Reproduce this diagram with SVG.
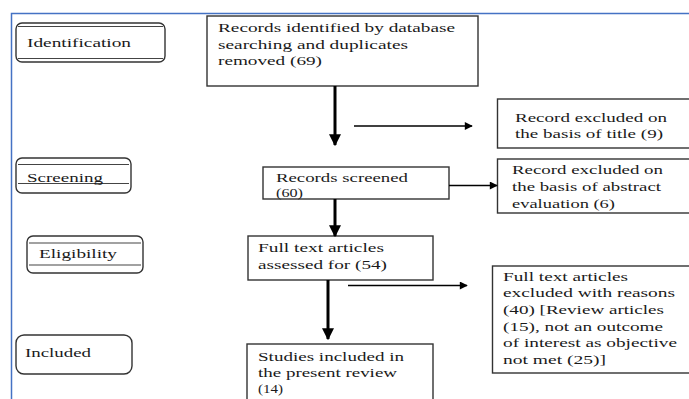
<svg xmlns="http://www.w3.org/2000/svg" width="689" height="399" viewBox="0 0 689 399">
<style>
text{font-family:'Liberation Serif','Times New Roman','DejaVu Serif',serif;font-size:13px;fill:#1a1a1a}
.box{fill:#fff;stroke:#333;stroke-width:1.4}
.stage{fill:#fff;stroke:#333;stroke-width:1.4}
.inner{stroke:#444;stroke-width:1.2;fill:none}
.thick{stroke:#000;stroke-width:3;fill:none}
.thin{stroke:#000;stroke-width:1.6;fill:none}
</style>
<defs>
<marker id="ah" viewBox="0 0 10 10" refX="9" refY="5" markerWidth="4" markerHeight="4" orient="auto" markerUnits="strokeWidth"><path d="M0,0 L10,5 L0,10 z" fill="#000"/></marker>
<marker id="ahs" viewBox="0 0 10 10" refX="9" refY="5" markerWidth="7" markerHeight="5" orient="auto" markerUnits="strokeWidth"><path d="M0,0 L10,5 L0,10 z" fill="#000"/></marker>
</defs>
<rect width="689" height="399" fill="#fff"/>
<path d="M11.5,399 V13.5 H689" fill="none" stroke="#4472c4" stroke-width="1.5"/>

<g font-family="Liberation Serif, Times New Roman, serif">
<g id="identification">
<rect class="stage" x="16" y="23" width="149" height="39" rx="6"/>
<line class="inner" x1="18" y1="26.5" x2="163" y2="26.5"/>
<line class="inner" x1="18" y1="58.5" x2="163" y2="58.5"/>
<text x="27" y="47" textLength="104" lengthAdjust="spacingAndGlyphs">Identification</text>
</g>
<g id="screening">
<rect class="stage" x="16" y="158" width="115" height="35" rx="6"/>
<line class="inner" x1="18" y1="164.5" x2="129" y2="164.5"/>
<line class="inner" x1="18" y1="183.5" x2="129" y2="183.5"/>
<text x="27" y="182" textLength="76" lengthAdjust="spacingAndGlyphs">Screening</text>
</g>
<g id="eligibility">
<rect class="stage" x="27" y="236" width="116" height="37" rx="6"/>
<line class="inner" x1="29" y1="243" x2="141" y2="243"/>
<line class="inner" x1="29" y1="265" x2="141" y2="265"/>
<text x="39" y="258" textLength="78" lengthAdjust="spacingAndGlyphs">Eligibility</text>
</g>
<g id="included">
<rect class="stage" x="16" y="335" width="116" height="39" rx="8"/>
<text x="25" y="357" textLength="66" lengthAdjust="spacingAndGlyphs">Included</text>
</g>

<g id="records-identified">
<rect class="box" x="207" y="16" width="271" height="70"/>
<text x="218" y="32" textLength="237" lengthAdjust="spacingAndGlyphs">Records identified by database</text>
<text x="218" y="49" textLength="190" lengthAdjust="spacingAndGlyphs">searching and duplicates</text>
<text x="218" y="65" textLength="104" lengthAdjust="spacingAndGlyphs">removed (69)</text>
</g>
<g id="excluded-title">
<rect class="box" x="497.5" y="99" width="200" height="49"/>
<text x="515" y="122" textLength="152" lengthAdjust="spacingAndGlyphs">Record excluded on</text>
<text x="515" y="138" textLength="148" lengthAdjust="spacingAndGlyphs">the basis of title (9)</text>
</g>
<g id="records-screened">
<rect class="box" x="263" y="167" width="186" height="32"/>
<text x="276" y="182" textLength="132" lengthAdjust="spacingAndGlyphs">Records screened</text>
<text x="276" y="197" textLength="27" lengthAdjust="spacingAndGlyphs">(60)</text>
</g>
<g id="excluded-abstract">
<rect class="box" x="497.5" y="159" width="200" height="54"/>
<text x="512" y="174" textLength="151" lengthAdjust="spacingAndGlyphs">Record excluded on</text>
<text x="512" y="191" textLength="149" lengthAdjust="spacingAndGlyphs">the basis of abstract</text>
<text x="512" y="208" textLength="103" lengthAdjust="spacingAndGlyphs">evaluation (6)</text>
</g>
<g id="full-text">
<rect class="box" x="248" y="236" width="185" height="44"/>
<text x="258" y="252" textLength="126" lengthAdjust="spacingAndGlyphs">Full text articles</text>
<text x="258" y="269" textLength="129" lengthAdjust="spacingAndGlyphs">assessed for (54)</text>
</g>
<g id="excluded-full-text">
<rect class="box" x="492.5" y="266" width="205" height="107"/>
<text x="503" y="281" textLength="125" lengthAdjust="spacingAndGlyphs">Full text articles</text>
<text x="503" y="297" textLength="172" lengthAdjust="spacingAndGlyphs">excluded with reasons</text>
<text x="503" y="314" textLength="161" lengthAdjust="spacingAndGlyphs">(40) [Review articles</text>
<text x="503" y="331" textLength="160" lengthAdjust="spacingAndGlyphs">(15), not an outcome</text>
<text x="503" y="347" textLength="174" lengthAdjust="spacingAndGlyphs">of interest as objective</text>
<text x="503" y="364" textLength="103" lengthAdjust="spacingAndGlyphs">not met (25)]</text>
</g>
<g id="studies-included">
<rect class="box" x="247" y="344" width="186" height="70"/>
<text x="258" y="361" textLength="146" lengthAdjust="spacingAndGlyphs">Studies included in</text>
<text x="258" y="377" textLength="139" lengthAdjust="spacingAndGlyphs">the present review</text>
<text x="258" y="393" textLength="25" lengthAdjust="spacingAndGlyphs">(14)</text>
</g>
</g>

<g id="connectors">
<line class="thick" x1="335" y1="86" x2="335" y2="145" marker-end="url(#ah)"/>
<line class="thin" x1="354" y1="126" x2="472" y2="126" marker-end="url(#ahs)"/>
<line class="thin" x1="449" y1="185.5" x2="497" y2="185.5" marker-end="url(#ahs)"/>
<line class="thick" x1="335" y1="199" x2="335" y2="236" marker-end="url(#ah)"/>
<line class="thick" x1="328" y1="280" x2="328" y2="339" marker-end="url(#ah)"/>
<line class="thin" x1="348" y1="285.5" x2="467" y2="285.5" marker-end="url(#ahs)"/>
</g>
</svg>
